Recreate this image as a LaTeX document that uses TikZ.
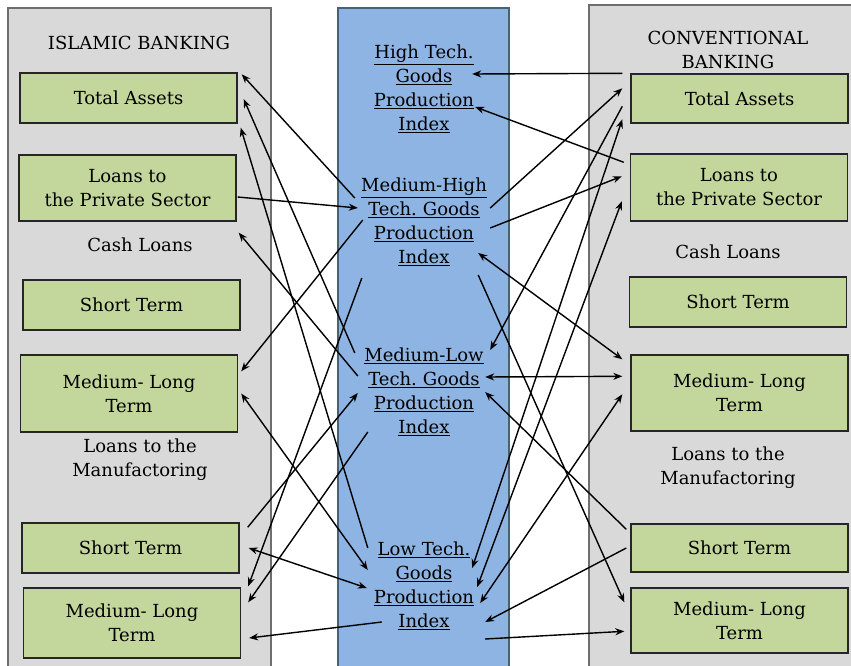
\documentclass[tikz,border=0pt]{standalone}
\usepackage{fontspec}
\setmainfont{DejaVu Serif}
\usetikzlibrary{arrows.meta}
\definecolor{panelgrey}{HTML}{D9D9D9}
\definecolor{panelline}{HTML}{6E6E6E}
\definecolor{indexblue}{HTML}{8EB4E3}
\definecolor{indexline}{HTML}{4A6078}
\definecolor{boxgreen}{HTML}{C3D69B}
\tikzset{
	item/.style={draw=black!85, fill=boxgreen, line width=1.4pt, align=center, minimum width=217pt, inner sep=2pt, font=\fontsize{18}{24}\selectfont},
	heading/.style={align=center, inner sep=0pt, font=\fontsize{18}{24}\selectfont},
	index/.style={align=center, text width=136pt, inner sep=0pt, font=\fontsize{18}{24}\selectfont},
	link/.style={line width=1.4pt, -{Stealth[length=9pt,width=7pt]}},
	twoway/.style={line width=1.4pt, {Stealth[length=9pt,width=7pt]}-{Stealth[length=9pt,width=7pt]}}
}
\begin{document}
\begin{tikzpicture}[x=1pt,y=-1pt]
		\useasboundingbox (0,0) rectangle (851,666);
		\filldraw[fill=panelgrey, draw=panelline, line width=1.4pt] (8,8) rectangle (271,690);
		\filldraw[fill=indexblue, draw=indexline, line width=1.4pt] (338,8) rectangle (509,690);
		\filldraw[fill=panelgrey, draw=panelline, line width=1.4pt] (589,5) rectangle (880,690);
		
		% islamic banking
		\node[heading] (ititle) at (139,43) {ISLAMIC BANKING};
		\node[item, minimum height=50pt] (ita) at (128.5,98) {Total Assets};
		\node[item, minimum height=66pt] (ilps) at (127.5,188) {Loans to\\the Private Sector};
		\node[heading] (icash) at (140,245) {Cash Loans};
		\node[item, minimum height=50pt] (ist1) at (131.5,305) {Short Term};
		\node[item, minimum height=77pt] (iml1) at (129,393.5) {Medium- Long\\Term};
		\node[heading] (imanuf) at (140,460) {Loans to the\\Manufactoring};
		\node[item, minimum height=50pt] (ist2) at (130.5,548) {Short Term};
		\node[item, minimum height=70pt] (iml2) at (132,623) {Medium- Long\\Term};
		
		% production indices
		\node[index] (ht) at (424,89) {\underline{High Tech.}\\\underline{Goods}\\\underline{Production}\\\underline{Index}};
		\node[index] (mh) at (424,222) {\underline{Medium-High}\\\underline{Tech.\ Goods}\\\underline{Production}\\\underline{Index}};
		\node[index] (ml) at (424,392) {\underline{Medium-Low}\\\underline{Tech.\ Goods}\\\underline{Production}\\\underline{Index}};
		\node[index] (lt) at (424,586) {\underline{Low Tech.}\\\underline{Goods}\\\underline{Production}\\\underline{Index}};
		
		% conventional banking
		\node[heading] (ctitle) at (728,50) {CONVENTIONAL\\BANKING};
		\node[item, minimum height=49pt] (cta) at (739.5,98.5) {Total Assets};
		\node[item, minimum height=67pt] (clps) at (739,187.5) {Loans to\\the Private Sector};
		\node[heading] (ccash) at (728,252) {Cash Loans};
		\node[item, minimum height=50pt] (cst1) at (738,302) {Short Term};
		\node[item, minimum height=76pt] (cml1) at (739.5,393) {Medium- Long\\Term};
		\node[heading] (cmanuf) at (728,468) {Loans to the\\Manufactoring};
		\node[item, minimum height=48pt] (cst2) at (739.5,548) {Short Term};
		\node[item, minimum height=65pt] (cml2) at (739.5,620.5) {Medium- Long\\Term};
		
		% left links
		\draw[link] ([shift={(-1,-24)}]mh.west) -- ([shift={(4,2)}]ita.north east);
		\draw[link] ([shift={(-1,-39)}]ml.west) -- ([shift={(6,1)}]ita.east);
		\draw[link] ([shift={(12,-38)}]lt.west) -- ([shift={(3,4)}]ita.south east);
		\draw[link] ([shift={(1,9)}]ilps.east) -- ([shift={(2,-14)}]mh.west);
		\draw[link] ([shift={(2,-16)}]ml.west) -- ([shift={(2,11)}]ilps.south east);
		\draw[link] ([shift={(7,-2)}]mh.west) -- ([shift={(3,17)}]iml1.north east);
		\draw[twoway] ([shift={(3,0)}]iml1.east) -- ([shift={(12,-16)}]lt.west);
		\draw[link] ([shift={(8,5)}]ist2.north east) -- ([shift={(2,1)}]ml.west);
		\draw[link] ([shift={(6,56)}]mh.west) -- ([shift={(7,-1)}]iml2.north east);
		\draw[link] ([shift={(12,40)}]ml.west) -- ([shift={(7,15)}]iml2.north east);
		\draw[twoway] ([shift={(9,0)}]ist2.east) -- ([shift={(11,2)}]lt.west);
		\draw[link] ([shift={(26,36)}]lt.west) -- ([shift={(8,15)}]iml2.east);
		
		% right links
		\draw[link] ([shift={(-8,0)}]cta.north west) -- ([shift={(-20,-15)}]ht.east);
		\draw[link] ([shift={(-2,-14)}]mh.east) -- ([shift={(-8,15)}]cta.north west);
		\draw[link] ([shift={(-8,33)}]cta.north west) -- ([shift={(-2,-42)}]ml.east);
		\draw[twoway] ([shift={(-20,-18)}]lt.east) -- ([shift={(-8,46)}]cta.north west);
		\draw[link] ([shift={(-6,9)}]clps.north west) -- ([shift={(-17,18)}]ht.east);
		\draw[link] ([shift={(-2,6)}]mh.east) -- ([shift={(-8,23)}]clps.north west);
		\draw[twoway] ([shift={(-15,1)}]lt.east) -- ([shift={(-8,48)}]clps.north west);
		\draw[twoway] ([shift={(-14,31)}]mh.east) -- ([shift={(-8,5)}]cml1.north west);
		\draw[twoway] ([shift={(-7,-15)}]ml.east) -- ([shift={(-8,22)}]cml1.north west);
		\draw[twoway] ([shift={(-12,17)}]lt.east) -- ([shift={(-8,40)}]cml1.north west);
		\draw[link] ([shift={(-14,53)}]mh.east) -- ([shift={(-6,15)}]cml2.north west);
		\draw[link] ([shift={(-4,6)}]cst2.north west) -- ([shift={(-7,0)}]ml.east);
		\draw[link] ([shift={(-4,0)}]cst2.west) -- ([shift={(-7,36)}]lt.east);
		\draw[link] ([shift={(-7,53)}]lt.east) -- ([shift={(-6,44)}]cml2.north west);
		
	\end{tikzpicture}
\end{document}
